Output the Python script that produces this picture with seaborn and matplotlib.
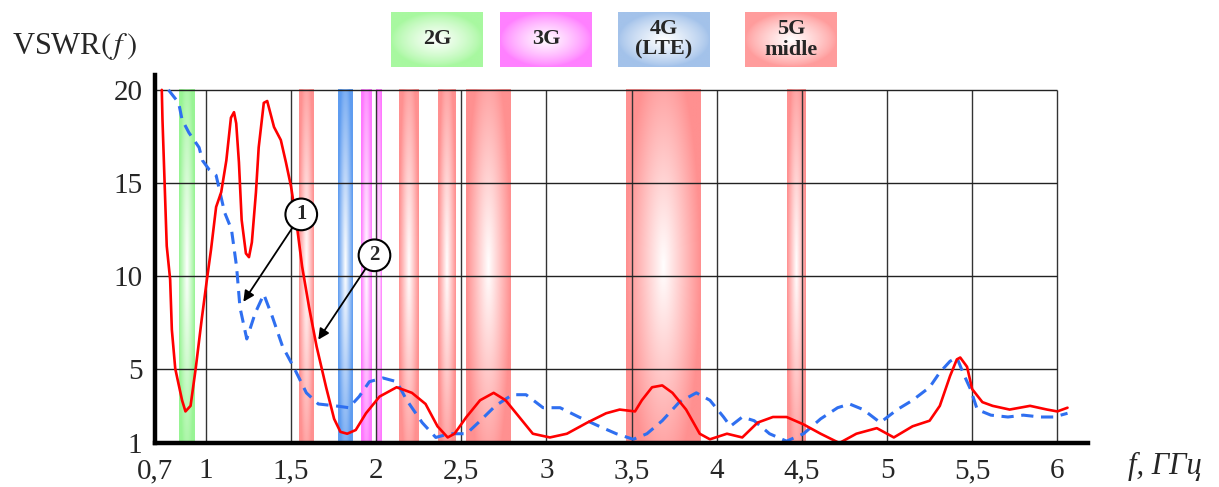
import numpy as np
import matplotlib
matplotlib.use("Agg")
import matplotlib.pyplot as plt
import seaborn as sns
import pandas as pd

# ---------------- data ----------------
red_f = [0.741, 0.745, 0.77, 0.79, 0.80, 0.82, 0.86, 0.88, 0.91, 0.94, 0.976, 1.006, 1.03, 1.06, 1.09,
         1.12, 1.147, 1.165, 1.178, 1.194, 1.21, 1.235, 1.253, 1.27, 1.294, 1.31, 1.34, 1.36, 1.40,
         1.44, 1.47, 1.50, 1.53, 1.565, 1.606, 1.65, 1.706, 1.753, 1.79, 1.83, 1.88, 1.94, 2.02,
         2.12, 2.21, 2.29, 2.36, 2.42, 2.46, 2.53, 2.61, 2.69, 2.76, 2.84, 2.92, 3.02, 3.12, 3.24,
         3.35, 3.43, 3.52, 3.56, 3.62, 3.68, 3.74, 3.82, 3.90, 3.96, 4.06, 4.15, 4.24, 4.33, 4.41,
         4.51, 4.61, 4.72, 4.82, 4.94, 5.04, 5.15, 5.25, 5.31, 5.37, 5.41, 5.43, 5.47, 5.50, 5.56,
         5.62, 5.72, 5.84, 5.94, 6.00, 6.06]
red_v = [20.0, 18.4, 11.6, 9.8, 7.1, 5.0, 3.3, 2.7, 3.0, 5.0, 7.7, 9.8, 11.4, 13.7, 14.5,
         16.2, 18.5, 18.8, 18.2, 16.1, 13.0, 11.2, 11.0, 11.8, 14.5, 16.9, 19.3, 19.4, 18.0,
         17.3, 16.1, 14.8, 13.0, 10.5, 8.3, 6.2, 4.0, 2.3, 1.6, 1.5, 1.7, 2.6, 3.5,
         4.0, 3.7, 3.1, 1.9, 1.3, 1.5, 2.4, 3.3, 3.7, 3.3, 2.4, 1.5, 1.3, 1.5, 2.1,
         2.6, 2.8, 2.7, 3.3, 4.0, 4.1, 3.7, 2.8, 1.5, 1.2, 1.5, 1.3, 2.1, 2.4, 2.4,
         2.0, 1.5, 1.0, 1.5, 1.8, 1.3, 1.9, 2.2, 3.0, 4.6, 5.5, 5.6, 5.1, 3.9, 3.2,
         3.0, 2.8, 3.0, 2.8, 2.7, 2.9]

blue_f = [0.78, 0.84, 0.86, 0.90, 0.96, 0.98, 1.02, 1.06, 1.08, 1.11, 1.15, 1.18, 1.20, 1.24,
          1.29, 1.34, 1.39, 1.45, 1.52, 1.59, 1.66, 1.76, 1.84, 1.90, 1.96, 2.04, 2.12, 2.18,
          2.27, 2.35, 2.43, 2.53, 2.60, 2.70, 2.80, 2.88, 2.98, 3.08, 3.19, 3.31, 3.41, 3.51,
          3.59, 3.68, 3.78, 3.88, 3.96, 4.04, 4.08, 4.15, 4.22, 4.31, 4.41, 4.51, 4.61, 4.71,
          4.78, 4.86, 4.96, 5.06, 5.15, 5.25, 5.31, 5.37, 5.41, 5.45, 5.49, 5.53, 5.61, 5.71,
          5.80, 5.90, 5.98, 6.06]
blue_v = [20.0, 19.3, 18.4, 17.7, 16.9, 16.2, 15.7, 15.4, 14.6, 13.4, 12.5, 10.5, 8.3, 6.6,
          8.0, 9.0, 7.8, 6.2, 5.0, 3.7, 3.1, 3.0, 2.9, 3.5, 4.3, 4.5, 4.3, 3.3,
          2.1, 1.3, 1.5, 1.5, 2.1, 3.0, 3.6, 3.6, 2.9, 2.9, 2.4, 1.9, 1.5, 1.2,
          1.5, 2.2, 3.2, 3.7, 3.3, 2.4, 1.9, 2.4, 2.2, 1.5, 1.1, 1.5, 2.3, 2.9,
          3.1, 2.8, 2.1, 2.8, 3.3, 4.0, 4.8, 5.4, 5.6, 4.7, 3.9, 2.8, 2.5, 2.4,
          2.5, 2.4, 2.4, 2.6]

band_lo = [0.84, 1.547, 1.776, 1.91, 2.00, 2.135, 2.365, 2.53, 3.47, 4.41]
band_hi = [0.93, 1.63, 1.86, 1.97, 2.03, 2.25, 2.47, 2.79, 3.91, 4.52]
band_kind = ["2G", "5G", "4G", "3G", "3G", "5G", "5G", "5G", "5G", "5G"]

legend_kinds = ["2G", "3G", "4G", "5G"]
legend_texts = ["2G", "3G", "4G\n(LTE)", "5G\nmidle"]

x_ticks = [0.7, 1, 1.5, 2, 2.5, 3, 3.5, 4, 4.5, 5, 5.5, 6]
x_labels = ["0,7", "1", "1,5", "2", "2,5", "3", "3,5", "4", "4,5", "5", "5,5", "6"]
y_ticks = [1, 5, 10, 15, 20]
y_labels = ["1", "5", "10", "15", "20"]

# ---------------- style ----------------
sns.set_style("white")
plt.rcParams["font.family"] = ["Liberation Serif", "DejaVu Serif"]
plt.rcParams["mathtext.fontset"] = "stix"

band_colors = {"2G": "#98f494", "3G": "#ff78ff", "4G": "#5e9cf0", "5G": "#ff9090"}
legend_colors = {"2G": "#a8f8a0", "3G": "#ff80ff", "4G": "#a3c2ea", "5G": "#ff9c9c"}


def grad_img(hexcol, nx=64, ny=128, k=0.8, power=1.0):
    rgb = np.array(matplotlib.colors.to_rgb(hexcol))
    u = np.linspace(-1, 1, nx)
    w = np.linspace(-1, 1, ny)
    U, W = np.meshgrid(u, w)
    r = np.sqrt(U ** 2 + (k * W) ** 2)
    white = np.clip(1 - r, 0, 1) ** power
    return rgb[None, None, :] * (1 - white[..., None]) + white[..., None]


fig = plt.figure(figsize=(12.19, 4.87), dpi=100)
ax = fig.add_axes([0.127, 0.0903, 0.7655, 0.7557])

# bands
for lo, hi, kd in zip(band_lo, band_hi, band_kind):
    ax.imshow(grad_img(band_colors[kd]), extent=(lo, hi, 1, 20), aspect="auto",
              interpolation="bilinear", zorder=1)

# grid
grid_x = x_ticks[1:]
ax.vlines(grid_x, 1, 20, color="#333333", lw=1.0, zorder=2)
ax.hlines(y_ticks[1:], 0.7, 6, color="#222222", lw=1.0, zorder=2)

# curves
sns.lineplot(x=blue_f, y=blue_v, ax=ax, color="#2f6ff0", lw=2.2,
             linestyle=(0, (4, 2.5)), estimator=None, sort=False, zorder=3)
sns.lineplot(x=red_f, y=red_v, ax=ax, color="#ff0000", lw=1.9,
             estimator=None, sort=False, zorder=4)

# annotations
for lab, tip, txt in [("1", (1.22, 8.6), (1.56, 13.3)), ("2", (1.66, 6.56), (1.99, 11.1))]:
    ax.annotate(lab, xy=tip, xytext=txt, ha="center", va="center",
                fontsize=15, fontweight="bold", zorder=6,
                bbox=dict(boxstyle="circle,pad=0.28", fc="white", ec="black", lw=1.5),
                arrowprops=dict(arrowstyle="-|>", color="black", lw=1.3, mutation_scale=16,
                                shrinkA=0, shrinkB=0))

ax.set_xlim(0.7, 6.18)
ax.set_ylim(1, 20.8)
ax.set_xticks(x_ticks)
ax.set_xticklabels(x_labels)
ax.set_yticks(y_ticks)
ax.set_yticklabels(y_labels)
ax.tick_params(axis="both", length=0, labelsize=21)
ax.tick_params(axis="x", pad=11)
ax.tick_params(axis="y", pad=9)
ax.set_xlabel("")
ax.set_ylabel("")
for s in ["top", "right"]:
    ax.spines[s].set_visible(False)
for s in ["left", "bottom"]:
    ax.spines[s].set_linewidth(3.2)
    ax.spines[s].set_color("black")
    ax.spines[s].set_zorder(5)

# axis titles
fig.text(12 / 1219, 1 - 47 / 487, r"VSWR$(\,f\,)$", fontsize=22, ha="left", va="center")
fig.text(1128 / 1219, 1 - 466 / 487, "f, ГГц", fontsize=22, style="italic",
         ha="left", va="center")

# legend boxes
box_left = [391, 500, 618, 745]
for bl, kd, tx in zip(box_left, legend_kinds, legend_texts):
    lax = fig.add_axes([bl / 1219, 1 - 67 / 487, 92 / 1219, 55 / 487])
    lax.imshow(grad_img(legend_colors[kd], nx=96, ny=60, k=1.0, power=0.8),
               extent=(0, 1, 0, 1), aspect="auto", interpolation="bilinear")
    lax.text(0.5, 0.5, tx, ha="center", va="center", fontsize=16, fontweight="bold",
             linespacing=1.05)
    lax.set_axis_off()

fig.savefig("out.png", dpi=100)
